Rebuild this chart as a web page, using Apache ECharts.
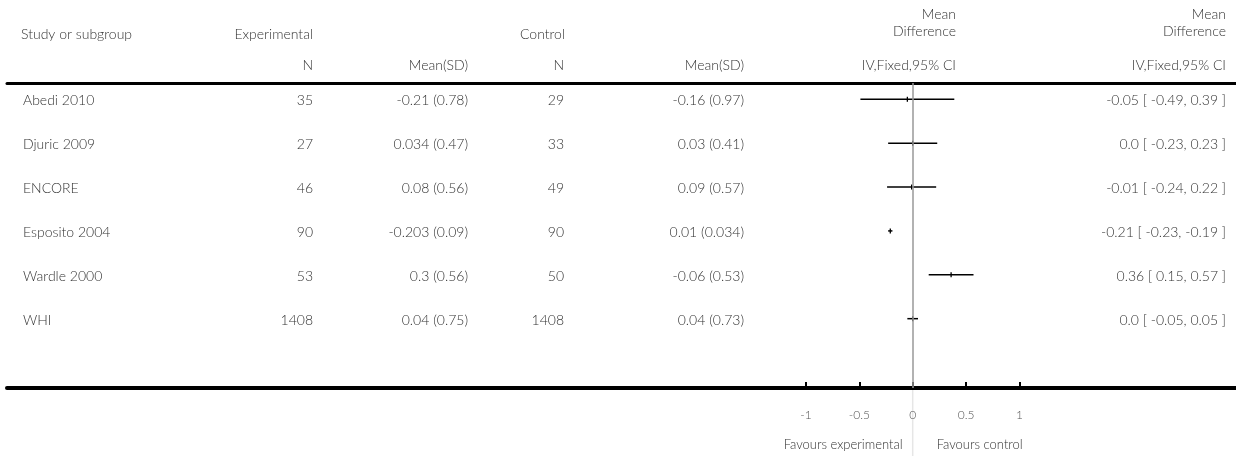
<!DOCTYPE html>
<html>
<head>
<meta charset="utf-8">
<script src="https://cdn.jsdelivr.net/npm/echarts@6/dist/echarts.min.js"></script>
<style>
  html, body { margin: 0; padding: 0; background: #fff; }
  #chart { width: 1236px; height: 456px; }
</style>
</head>
<body>
<div id="chart"></div>
<script>
// Study rows
const studies = ['Abedi 2010', 'Djuric 2009', 'ENCORE', 'Esposito 2004', 'Wardle 2000', 'WHI'];
const expN = [35, 27, 46, 90, 53, 1408];
const expMean = [-0.21, 0.034, 0.08, -0.203, 0.3, 0.04];
const expSD = [0.78, 0.47, 0.56, 0.09, 0.56, 0.75];
const ctrlN = [29, 33, 49, 90, 50, 1408];
const ctrlMean = [-0.16, 0.03, 0.09, 0.01, -0.06, 0.04];
const ctrlSD = [0.97, 0.41, 0.57, 0.034, 0.53, 0.73];
const meanDiff = [-0.05, 0.0, -0.01, -0.21, 0.36, 0.0];
const ciLow = [-0.49, -0.23, -0.24, -0.23, 0.15, -0.05];
const ciHigh = [0.39, 0.23, 0.22, -0.19, 0.57, 0.05];

// Effect axis
const axisTicks = [-1, -0.5, 0, 0.5, 1];
const axisTickLabels = ['-1', '-0.5', '0', '0.5', '1'];

const FONT = 'Lato, "Open Sans", sans-serif';
const TXT = '#333';
const SIZE = 14;

const fmt = v => (v === 0 ? '0.0' : String(v));
const fmtMsd = (m, s) => `${m} (${s})`;
const fmtCI = (m, lo, hi) => `${fmt(m)} [ ${fmt(lo)}, ${fmt(hi)} ]`;

// Column anchors (pixel x) and alignment
const cols = [
  { x: 23,   align: 'left',  get: i => studies[i] },
  { x: 313,  align: 'right', get: i => String(expN[i]) },
  { x: 468,  align: 'right', get: i => fmtMsd(expMean[i], expSD[i]) },
  { x: 564,  align: 'right', get: i => String(ctrlN[i]) },
  { x: 744,  align: 'right', get: i => fmtMsd(ctrlMean[i], ctrlSD[i]) },
  { x: 1226, align: 'right', get: i => fmtCI(meanDiff[i], ciLow[i], ciHigh[i]) }
];

const rows = studies.map((_, i) => [i, meanDiff[i], ciLow[i], ciHigh[i]]);

const chart = echarts.init(document.getElementById('chart'), null, { renderer: 'canvas' });

const textEl = (text, x, y, align, size) => ({
  type: 'text',
  x, y,
  style: { text, fill: TXT, font: `300 ${size || SIZE}px ${FONT}`, align, verticalAlign: 'middle' },
  silent: true
});

const option = {
  animation: false,
  grid: { left: 7, right: 0, top: 83, bottom: 68, containLabel: false },
  xAxis: [
    {
      type: 'value', min: -8.488, max: 3.03, position: 'bottom',
      splitLine: { show: false },
      axisLine: { show: true, onZero: false, lineStyle: { color: '#000', width: 4 } },
      axisTick: { show: true, inside: true, length: 6, customValues: axisTicks,
                  lineStyle: { color: '#000', width: 2 } },
      axisLabel: {
        show: true, customValues: axisTicks, margin: 21,
        color: '#555', fontSize: 12, fontFamily: FONT, fontWeight: 300,
        formatter: v => axisTickLabels[axisTicks.indexOf(v)]
      }
    },
    {
      type: 'value', min: -8.488, max: 3.03, position: 'top',
      splitLine: { show: false },
      axisLine: { show: true, onZero: false, lineStyle: { color: '#000', width: 3 } },
      axisTick: { show: false }, axisLabel: { show: false }
    }
  ],
  yAxis: {
    type: 'value', inverse: true, min: -0.371, max: 6.58, show: false
  },
  series: [
    {
      // confidence intervals and point estimates
      type: 'custom',
      data: rows,
      encode: { x: [1, 2, 3], y: 0 },
      renderItem: (params, api) => {
        const r = api.value(0);
        const lo = api.coord([api.value(2), r]);
        const hi = api.coord([api.value(3), r]);
        const m = api.coord([api.value(1), r]);
        return {
          type: 'group',
          children: [
            { type: 'line', shape: { x1: lo[0], y1: lo[1], x2: hi[0], y2: hi[1] },
              style: { stroke: '#000', lineWidth: 1.5 } },
            { type: 'line', shape: { x1: m[0], y1: m[1] - 2.5, x2: m[0], y2: m[1] + 2.5 },
              style: { stroke: '#000', lineWidth: 1.3 } }
          ]
        };
      },
      markLine: {
        silent: true, symbol: 'none', label: { show: false },
        lineStyle: { color: '#999', width: 1.5, type: 'solid' },
        data: [{ xAxis: 0 }]
      },
      z: 3
    },
    {
      // table text, one row per study
      type: 'custom',
      data: studies.map((_, i) => [0, i]),
      encode: { x: 0, y: 1 },
      clip: false,
      renderItem: (params, api) => {
        const i = api.value(1);
        const y = api.coord([0, i])[1] + 1.5;
        return {
          type: 'group',
          children: cols.map(c => textEl(c.get(i), c.x, y, c.align))
        };
      }
    }
  ]
};

chart.setOption(option);

// Header and footer text, placed around the zero line of the effect axis
const zeroX = chart.convertToPixel({ xAxisIndex: 0 }, 0);
const axisBottom = chart.convertToPixel({ yAxisIndex: 0 }, 6.58);

const headers = [
  ['Study or subgroup', 21, 34, 'left'],
  ['Experimental', 313, 34, 'right'],
  ['N', 313, 65, 'right'],
  ['Mean(SD)', 468, 65, 'right'],
  ['Control', 565, 34, 'right'],
  ['N', 564, 65, 'right'],
  ['Mean(SD)', 744, 65, 'right'],
  ['Mean', 956, 14, 'right'],
  ['Difference', 956, 31, 'right'],
  ['IV,Fixed,95% CI', 956, 65, 'right'],
  ['Mean', 1226, 14, 'right'],
  ['Difference', 1226, 31, 'right'],
  ['IV,Fixed,95% CI', 1226, 65, 'right']
];

const graphics = headers.map(([t, x, y, a]) => textEl(t, x, y, a));
graphics.push(textEl('Favours experimental', zeroX - 10, 445, 'right', 13));
graphics.push(textEl('Favours control', zeroX + 24, 445, 'left', 13));
graphics.push({
  type: 'line', silent: true, z: -1,
  shape: { x1: zeroX, y1: axisBottom + 2, x2: zeroX, y2: 456 },
  style: { stroke: '#e6e6e6', lineWidth: 1.5 }
});

chart.setOption({ graphic: graphics });
</script>
</body>
</html>
